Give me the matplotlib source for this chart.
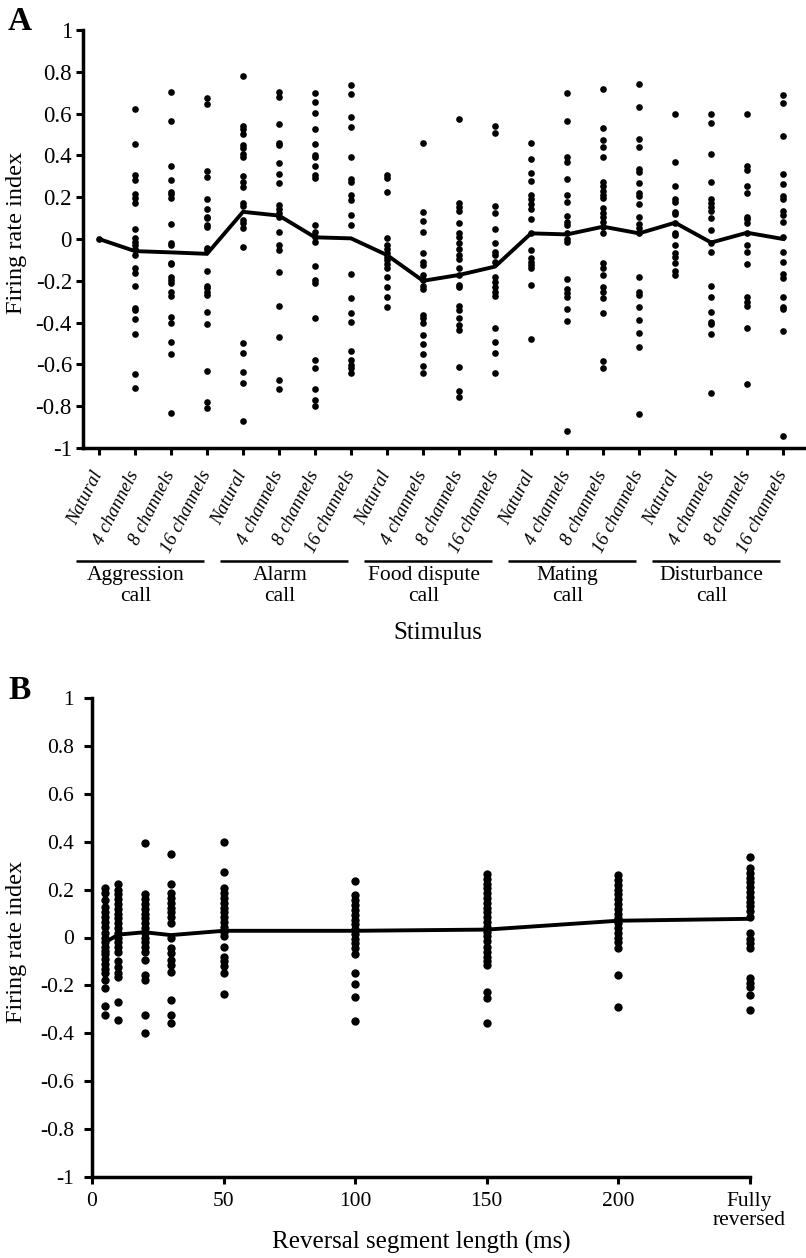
import matplotlib
matplotlib.use('Agg')
import matplotlib.pyplot as plt
import matplotlib.transforms as mtransforms

plt.rcParams['font.family'] = ['Liberation Serif', 'DejaVu Serif']
plt.rcParams['axes.unicode_minus'] = False

# ---------------- Panel A data ----------------
stimulus_types = ['Natural', '4 channels', '8 channels', '16 channels']
call_groups = ['Aggression\ncall', 'Alarm\ncall', 'Food dispute\ncall', 'Mating\ncall', 'Disturbance\ncall']

aggression_call = [
    [0.0],
    [0.62, 0.455, 0.308, 0.282, 0.215, 0.196, 0.174, 0.048, 0.003, -0.013, -0.029, -0.05, -0.077,
     -0.14, -0.164, -0.225, -0.332, -0.34, -0.384, -0.455, -0.646, -0.711],
    [0.705, 0.566, 0.351, 0.282, 0.226, 0.215, 0.195, 0.072, -0.017, -0.029, -0.113, -0.12, -0.18,
     -0.196, -0.209, -0.252, -0.273, -0.375, -0.404, -0.491, -0.552, -0.834],
    [0.676, 0.646, 0.327, 0.295, 0.19, 0.142, 0.107, 0.099, 0.067, 0.059, -0.042, -0.053, -0.152,
     -0.225, -0.236, -0.252, -0.268, -0.348, -0.407, -0.63, -0.778, -0.81],
]
alarm_call = [
    [0.78, 0.541, 0.525, 0.502, 0.45, 0.434, 0.407, 0.391, 0.301, 0.274, 0.247, 0.174, 0.158, 0.091,
     0.075, 0.051, -0.037, -0.499, -0.547, -0.635, -0.687, -0.869],
    [0.705, 0.681, 0.55, 0.461, 0.45, 0.365, 0.311, 0.269, 0.163, 0.142, 0.123, 0.107, 0.035, -0.029,
     -0.053, -0.159, -0.319, -0.467, -0.675, -0.718],
    [0.7, 0.656, 0.601, 0.528, 0.455, 0.4, 0.391, 0.349, 0.306, 0.29, 0.067, 0.035, 0.011, -0.013,
     -0.129, -0.196, -0.212, -0.38, -0.579, -0.619, -0.719, -0.77, -0.799],
    [0.735, 0.692, 0.585, 0.537, 0.394, 0.287, 0.274, 0.211, 0.187, 0.115, 0.067, -0.167, -0.284,
     -0.356, -0.396, -0.536, -0.579, -0.603, -0.619, -0.643],
]
food_dispute_call = [
    [0.306, 0.29, 0.226, 0.006, -0.029, -0.05, -0.069, -0.085, -0.1, -0.12, -0.14, -0.18, -0.231,
     -0.276, -0.324],
    [0.461, 0.131, 0.088, 0.035, -0.069, -0.108, -0.124, -0.172, -0.196, -0.225, -0.241, -0.364,
     -0.38, -0.404, -0.459, -0.502, -0.55, -0.608, -0.64],
    [0.573, 0.174, 0.155, 0.136, 0.075, 0.027, 0.011, -0.021, -0.05, -0.077, -0.097, -0.14, -0.172,
     -0.22, -0.231, -0.321, -0.34, -0.38, -0.411, -0.435, -0.611, -0.726, -0.754],
    [0.541, 0.506, 0.158, 0.123, 0.046, -0.017, -0.061, -0.077, -0.108, -0.183, -0.204, -0.231,
     -0.252, -0.273, -0.427, -0.491, -0.547, -0.643],
]
mating_call = [
    [0.461, 0.383, 0.317, 0.278, 0.211, 0.19, 0.167, 0.142, 0.094, 0.03, -0.053, -0.092, -0.108,
     -0.124, -0.14, -0.22, -0.48],
    [0.7, 0.566, 0.391, 0.37, 0.287, 0.212, 0.176, 0.112, 0.083, 0.067, 0.027, -0.001, -0.013,
     -0.193, -0.241, -0.26, -0.276, -0.336, -0.391, -0.919],
    [0.716, 0.533, 0.474, 0.439, 0.392, 0.274, 0.254, 0.23, 0.211, 0.195, 0.147, 0.126, 0.107, 0.083,
     0.059, 0.027, -0.113, -0.14, -0.172, -0.231, -0.252, -0.284, -0.352, -0.582, -0.619],
    [0.742, 0.633, 0.478, 0.439, 0.333, 0.32, 0.269, 0.222, 0.206, 0.167, 0.107, 0.072, 0.051, 0.027,
     -0.18, -0.252, -0.268, -0.324, -0.388, -0.448, -0.518, -0.839],
]
disturbance_call = [
    [0.598, 0.368, 0.254, 0.19, 0.178, 0.131, 0.118, 0.078, 0.027, 0.019, -0.029, -0.069, -0.088,
     -0.116, -0.152, -0.172],
    [0.598, 0.557, 0.405, 0.273, 0.19, 0.174, 0.155, 0.136, 0.099, 0.043, -0.017, -0.061, -0.225,
     -0.276, -0.348, -0.396, -0.407, -0.456, -0.738],
    [0.597, 0.349, 0.33, 0.254, 0.219, 0.107, 0.094, 0.075, 0.03, -0.029, -0.061, -0.12, -0.276,
     -0.3, -0.321, -0.427, -0.694],
    [0.689, 0.649, 0.493, 0.311, 0.263, 0.206, 0.19, 0.136, 0.115, 0.083, 0.011, -0.061, -0.108,
     -0.167, -0.188, -0.279, -0.324, -0.336, -0.44, -0.943],
]
a_means = [0.0, -0.058, -0.064, -0.071, 0.13, 0.112, 0.008, 0.003, -0.077, -0.2,
           -0.172, -0.132, 0.027, 0.022, 0.059, 0.027, 0.078, -0.017, 0.03, 0.0]

# ---------------- Panel B data ----------------
rev_lengths = [5, 10, 20, 30, 50, 100, 150, 200, 250]
rev_tick_values = [0, 50, 100, 150, 200, 250]
rev_tick_labels = ['0', '50', '100', '150', '200', 'Fully\nreversed']
rev_5 = [0.205, 0.186, 0.157, 0.127, 0.107, 0.086, 0.065, 0.044, 0.019, 0.0, -0.02, -0.04, -0.055,
         -0.07, -0.09, -0.11, -0.13, -0.15, -0.177, -0.212, -0.286, -0.324]
rev_10 = [0.223, 0.2, 0.18, 0.16, 0.14, 0.12, 0.1, 0.08, 0.06, 0.04, 0.02, 0.0, -0.02, -0.04, -0.06,
          -0.097, -0.122, -0.15, -0.165, -0.268, -0.344]
rev_20 = [0.393, 0.182, 0.16, 0.14, 0.12, 0.1, 0.08, 0.06, 0.04, 0.02, 0.0, -0.02, -0.04, -0.06,
          -0.094, -0.157, -0.177, -0.324, -0.397]
rev_30 = [0.347, 0.222, 0.185, 0.165, 0.145, 0.125, 0.105, 0.085, 0.059, -0.003, -0.045, -0.065,
          -0.094, -0.115, -0.143, -0.261, -0.324, -0.356]
rev_50 = [0.397, 0.275, 0.205, 0.185, 0.165, 0.145, 0.125, 0.105, 0.085, 0.065, 0.045, 0.025, 0.005,
          -0.038, -0.08, -0.1, -0.12, -0.15, -0.236]
rev_100 = [0.236, 0.177, 0.155, 0.135, 0.115, 0.095, 0.075, 0.055, 0.035, 0.015, -0.005, -0.025,
           -0.045, -0.07, -0.15, -0.194, -0.25, -0.347]
rev_150 = [0.264, 0.245, 0.225, 0.205, 0.185, 0.165, 0.145, 0.125, 0.105, 0.085, 0.065, 0.045,
           0.025, 0.005, -0.015, -0.04, -0.06, -0.08, -0.1, -0.115, -0.226, -0.254, -0.356]
rev_200 = [0.261, 0.24, 0.22, 0.2, 0.18, 0.16, 0.14, 0.12, 0.1, 0.08, 0.06, 0.04, 0.02, 0.0, -0.02,
           -0.044, -0.157, -0.292]
rev_250 = [0.337, 0.289, 0.27, 0.25, 0.23, 0.21, 0.19, 0.17, 0.15, 0.13, 0.11, 0.087, 0.02, -0.005,
           -0.025, -0.045, -0.17, -0.19, -0.205, -0.24, -0.303]
b_means = [-0.02, 0.012, 0.022, 0.01, 0.028, 0.028, 0.033, 0.07, 0.078]

y_ticks = [1.0, 0.8, 0.6, 0.4, 0.2, 0.0, -0.2, -0.4, -0.6, -0.8, -1.0]

# ---------------- Figure ----------------
W, H = 806, 1258
fig = plt.figure(figsize=(W / 100, H / 100), dpi=100)


def fx(px):
    return px / W


def fy(py):
    return 1 - py / H


def ylab(v):
    return f'{round(v, 1):g}'


def style_axes(ax):
    for s in ['top', 'right']:
        ax.spines[s].set_visible(False)
    for s in ['left', 'bottom']:
        ax.spines[s].set_linewidth(2.5)
    ax.set_ylim(-1, 1)
    ax.set_yticks(y_ticks)
    ax.set_yticklabels([ylab(v) for v in y_ticks])


# Panel A
axA = fig.add_axes([fx(83), fy(448), (804 - 83) / W, (448 - 30) / H])
style_axes(axA)
groups = [aggression_call, alarm_call, food_dispute_call, mating_call, disturbance_call]
for g, grp in enumerate(groups):
    for j, vals in enumerate(grp):
        i = 4 * g + j
        axA.plot([i] * len(vals), vals, 'o', ms=4.8, color='black', mec='none', clip_on=False, zorder=2)
axA.plot(range(len(a_means)), a_means, color='black', lw=2.8, zorder=3, solid_joinstyle='miter')
axA.set_xlim(-0.444, 19.58)
axA.set_xticks(range(20))
axA.set_xticklabels(stimulus_types * 5, rotation=63, ha='right', va='center',
                    rotation_mode='anchor', fontstyle='italic', fontsize=13.5)
axA.tick_params(axis='y', direction='out', length=5, width=2.2, pad=3, labelsize=16.5)
axA.tick_params(axis='x', direction='out', length=5, width=2.2, pad=12)

trans = mtransforms.blended_transform_factory(axA.transData, axA.transAxes)
for g, name in enumerate(call_groups):
    x0 = 4 * g - 0.64
    x1 = 4 * g + 3 - 0.08
    axA.plot([x0, x1], [-0.27, -0.27], transform=trans, color='black', lw=1.8,
             clip_on=False, solid_capstyle='butt')
    axA.text((x0 + x1) / 2 - 0.12, -0.282, name, transform=trans, ha='center', va='top',
             fontsize=15.5, linespacing=1.12)

fig.text(fx(438), fy(633), 'Stimulus', ha='center', va='center', fontsize=18)
fig.text(fx(17), fy(233), 'Firing rate index', rotation=90, ha='center', va='center', fontsize=17.5)
fig.text(fx(20), fy(22), 'A', fontweight='bold', fontsize=24, ha='center', va='center')

# Panel B
axB = fig.add_axes([fx(92), fy(1177), (749.5 - 92) / W, (1177 - 698) / H])
style_axes(axB)
b_columns = [rev_5, rev_10, rev_20, rev_30, rev_50, rev_100, rev_150, rev_200, rev_250]
for xv, vals in zip(rev_lengths, b_columns):
    axB.plot([xv] * len(vals), vals, 'o', ms=6, color='black', mec='none', clip_on=False, zorder=2)
axB.plot(rev_lengths, b_means, color='black', lw=2.8, zorder=3)
axB.set_xlim(0, 250)
axB.set_xticks(rev_tick_values)
axB.set_xticklabels(rev_tick_labels, fontsize=15.5, linespacing=0.95)
axB.tick_params(axis='y', direction='out', length=6, width=2.2, pad=7, labelsize=15.5)
axB.tick_params(axis='x', direction='out', length=5, width=2.2, pad=6)

fig.text(fx(421), fy(1242), 'Reversal segment length (ms)', ha='center', va='center', fontsize=18)
fig.text(fx(17), fy(942), 'Firing rate index', rotation=90, ha='center', va='center', fontsize=17.5)
fig.text(fx(20), fy(690), 'B', fontweight='bold', fontsize=24, ha='center', va='center')

fig.savefig('out.png', dpi=100)
